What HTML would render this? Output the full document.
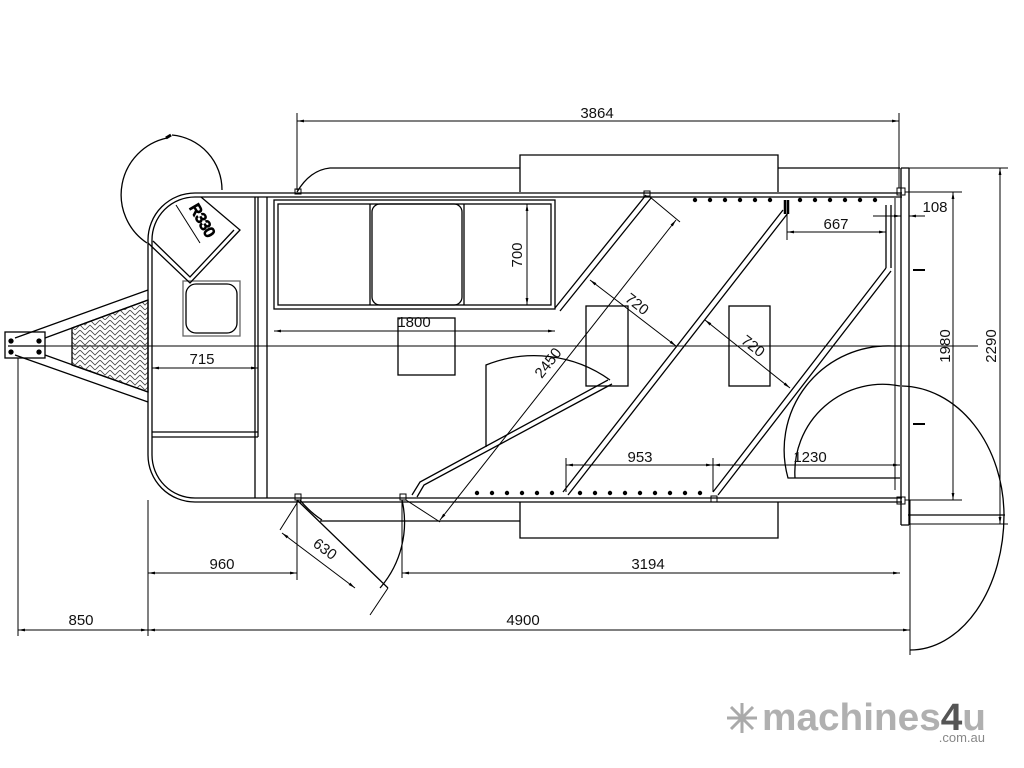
<!DOCTYPE html>
<html><head><meta charset="utf-8"><style>
html,body{margin:0;padding:0;background:#fff;}
svg{display:block}
text{font-family:"Liberation Sans",sans-serif;font-size:15px;fill:#111}
</style></head><body>
<svg width="1024" height="768" viewBox="0 0 1024 768" xmlns="http://www.w3.org/2000/svg">
<defs>
<marker id="a" viewBox="0 0 10 10" refX="10" refY="5" markerWidth="7" markerHeight="7" orient="auto-start-reverse"><path d="M0,3 L10,5 L0,7 z" fill="#000"/></marker>
<pattern id="h" width="10" height="10" patternUnits="userSpaceOnUse"><path d="M0,0 L5,5 L10,0 M0,5 L5,10 L10,5" stroke="#444" stroke-width="0.8" fill="none"/></pattern>
</defs>
<g stroke="#000" stroke-width="1.3" fill="none">
<line x1="8" y1="346" x2="978" y2="346" stroke-width="1"/>
<path d="M148,240 A47,47 0 0 1 195,193 L902,193"/>
<path d="M152,240 A43,43 0 0 1 195,197 L902,197"/>
<path d="M148,240 L148,455 A47,47 0 0 0 195,502 L902,502"/>
<path d="M152,240 L152,455 A43,43 0 0 0 195,498 L902,498"/>
<line x1="255" y1="197" x2="255" y2="498"/>
<line x1="258" y1="197" x2="258" y2="437"/>
<line x1="267" y1="197" x2="267" y2="498"/>
<path d="M152,432 L258,432 M152,437 L258,437"/>
<rect x="183" y="281" width="57" height="55" stroke="#666"/>
<rect x="186" y="284" width="51" height="49" rx="10"/>
<!-- door top-left -->
<path d="M147,243 A58,58 0 0 1 167,138"/>
<path d="M166,138 L171,135" stroke-width="3"/>
<path d="M172,135 A55,55 0 0 1 222,190"/>
<path d="M148,243 L190,283 L240,230 L201,197"/>
<path d="M153,241 L190,277 L234,230"/>
<line x1="176" y1="205" x2="200" y2="243" stroke-width="1"/>
<text x="198" y="223" transform="rotate(60 198 223)" text-anchor="middle">R330</text>
<!-- drawbar -->
<rect x="5" y="332" width="40" height="26"/>
<line x1="8" y1="346" x2="44" y2="346"/>
<circle cx="11" cy="341" r="2" fill="#000"/><circle cx="11" cy="352" r="2" fill="#000"/>
<circle cx="39" cy="341" r="2" fill="#000"/><circle cx="39" cy="352" r="2" fill="#000"/>
<path d="M15,338 L148,290 M45,338 L148,300 M15,355 L148,402 M45,355 L148,392"/>
<path d="M72,328 L148,300 L148,392 L72,365 Z" fill="url(#h)"/>
<line x1="18" y1="358" x2="18" y2="636" stroke-width="1"/>
<rect x="274" y="200" width="281" height="109"/>
<rect x="278" y="204" width="273" height="101"/>
<line x1="370" y1="204" x2="370" y2="305"/><line x1="464" y1="204" x2="464" y2="305"/>
<rect x="372" y="204" width="90" height="101" rx="8"/>
<rect x="398" y="318" width="57" height="57"/>
<path d="M520,192 L520,155 L778,155 L778,192"/>
<path d="M297,192 Q310,170 330,168 L520,168 M778,168 L900,168"/>
<path d="M520,502 L520,538 L778,538 L778,502"/>
<path d="M320,521 L520,521"/>
<path d="M646,195 L555,308 M651,198 L560,311"/>
<path d="M783,210 L563,492 M788,213 L568,495"/>
<path d="M886,268 L713,492 M891,271 L718,495"/>
<path d="M886,205 L886,268 M891,205 L891,268"/>
<path d="M785,200 L785,214 M788,200 L788,214" stroke-width="2.5"/>
<path d="M412,495 L420,482 L608,380 M417,497 L424,485 L612,384"/>
<path d="M486,447 L486,365 A130,130 0 0 1 610,380"/>
<rect x="586" y="306" width="42" height="80"/>
<rect x="729" y="306" width="41" height="80"/>
<path d="M900,346 L892,346 A104,104 0 0 0 788,478 L900,478"/>
<path d="M900,386 A88,88 0 0 0 795,478"/>
<path d="M902,386 A104,130 0 0 1 1004,515 M1004,515 A94,135 0 0 1 910,650"/>
<line x1="908" y1="515" x2="1005" y2="515"/>
<line x1="910" y1="500" x2="910" y2="655" stroke-width="1"/>
<path d="M901,168 L901,525 M909,168 L909,525 M901,168 L909,168 M901,525 L909,525"/>
<path d="M913,270 L925,270 M913,424 L925,424" stroke-width="2"/>
<path d="M895,198 L895,490" stroke-width="1"/>
<path d="M297,500 L388,588" />
<path d="M300,500 A95,95 0 0 0 322,520"/>
<path d="M402,500 A100,100 0 0 1 380,588"/>
<line x1="402" y1="500" x2="402" y2="578" stroke-width="1"/>
<line x1="297" y1="500" x2="297" y2="580" stroke-width="1"/>
<line x1="148" y1="500" x2="148" y2="636" stroke-width="1"/>
<rect x="295" y="189" width="6" height="5" stroke-width="1"/>
<rect x="644" y="191" width="6" height="5" stroke-width="1"/>
<rect x="897" y="188" width="8" height="7" stroke-width="1"/>
<rect x="295" y="494" width="6" height="6" stroke-width="1"/>
<rect x="400" y="494" width="6" height="6" stroke-width="1"/>
<rect x="711" y="496" width="6" height="6" stroke-width="1"/>
<rect x="897" y="497" width="8" height="7" stroke-width="1"/>
</g>
<g fill="#000">
<circle cx="695" cy="200" r="2.2"/><circle cx="710" cy="200" r="2.2"/><circle cx="725" cy="200" r="2.2"/><circle cx="740" cy="200" r="2.2"/><circle cx="755" cy="200" r="2.2"/><circle cx="770" cy="200" r="2.2"/><circle cx="800" cy="200" r="2.2"/><circle cx="815" cy="200" r="2.2"/><circle cx="830" cy="200" r="2.2"/><circle cx="845" cy="200" r="2.2"/><circle cx="860" cy="200" r="2.2"/><circle cx="875" cy="200" r="2.2"/>
<circle cx="477" cy="493" r="2.2"/><circle cx="492" cy="493" r="2.2"/><circle cx="507" cy="493" r="2.2"/><circle cx="522" cy="493" r="2.2"/><circle cx="537" cy="493" r="2.2"/><circle cx="552" cy="493" r="2.2"/><circle cx="580" cy="493" r="2.2"/><circle cx="595" cy="493" r="2.2"/><circle cx="610" cy="493" r="2.2"/><circle cx="625" cy="493" r="2.2"/><circle cx="640" cy="493" r="2.2"/><circle cx="655" cy="493" r="2.2"/><circle cx="670" cy="493" r="2.2"/><circle cx="685" cy="493" r="2.2"/><circle cx="700" cy="493" r="2.2"/>
</g>
<g stroke="#000" stroke-width="1" fill="none">
<line x1="297" y1="113" x2="297" y2="190"/><line x1="899" y1="113" x2="899" y2="188"/>
<line x1="297" y1="121" x2="899" y2="121" marker-start="url(#a)" marker-end="url(#a)"/>
<line x1="18" y1="630" x2="148" y2="630" marker-start="url(#a)" marker-end="url(#a)"/>
<line x1="148" y1="630" x2="910" y2="630" marker-start="url(#a)" marker-end="url(#a)"/>
<line x1="148" y1="573" x2="297" y2="573" marker-start="url(#a)" marker-end="url(#a)"/>
<line x1="402" y1="573" x2="900" y2="573" marker-start="url(#a)" marker-end="url(#a)"/>
<line x1="152" y1="368" x2="258" y2="368" marker-start="url(#a)" marker-end="url(#a)"/>
<line x1="274" y1="331" x2="555" y2="331" marker-start="url(#a)" marker-end="url(#a)"/>
<line x1="527" y1="204" x2="527" y2="305" marker-start="url(#a)" marker-end="url(#a)"/>
<line x1="787" y1="214" x2="787" y2="240"/>
<line x1="787" y1="232" x2="886" y2="232" marker-start="url(#a)" marker-end="url(#a)"/>
<line x1="873" y1="216" x2="901" y2="216" marker-end="url(#a)"/><line x1="925" y1="216" x2="909" y2="216" marker-end="url(#a)"/>
<line x1="905" y1="192" x2="962" y2="192"/><line x1="905" y1="500" x2="962" y2="500"/>
<line x1="953" y1="192" x2="953" y2="500" marker-start="url(#a)" marker-end="url(#a)"/>
<line x1="909" y1="168" x2="1008" y2="168"/><line x1="909" y1="524" x2="1008" y2="524"/>
<line x1="1000" y1="168" x2="1000" y2="524" marker-start="url(#a)" marker-end="url(#a)"/>
<line x1="566" y1="458" x2="566" y2="492"/><line x1="713" y1="458" x2="713" y2="492"/>
<line x1="566" y1="465" x2="713" y2="465" marker-start="url(#a)" marker-end="url(#a)"/>
<line x1="713" y1="465" x2="900" y2="465" marker-start="url(#a)" marker-end="url(#a)"/>
<line x1="650" y1="197" x2="680" y2="222"/>
<line x1="440" y1="520" x2="676" y2="220" marker-start="url(#a)" marker-end="url(#a)"/>
<line x1="406" y1="500" x2="440" y2="522"/>
<line x1="590" y1="280" x2="676" y2="346" marker-start="url(#a)" marker-end="url(#a)"/>
<line x1="705" y1="320" x2="790" y2="388" marker-start="url(#a)" marker-end="url(#a)"/>
<line x1="282" y1="533" x2="355" y2="588" marker-start="url(#a)" marker-end="url(#a)"/>
<line x1="297" y1="503" x2="280" y2="530"/><line x1="388" y1="588" x2="370" y2="615"/>
</g>
<text x="597" y="118" text-anchor="middle">3864</text>
<text x="81" y="625" text-anchor="middle">850</text>
<text x="523" y="625" text-anchor="middle">4900</text>
<text x="222" y="569" text-anchor="middle">960</text>
<text x="648" y="569" text-anchor="middle">3194</text>
<text x="202" y="364" text-anchor="middle">715</text>
<text x="414" y="327" text-anchor="middle">1800</text>
<text x="522" y="255" text-anchor="middle" transform="rotate(-90 522 255)">700</text>
<text x="836" y="229" text-anchor="middle">667</text>
<text x="935" y="212" text-anchor="middle">108</text>
<text x="950" y="346" text-anchor="middle" transform="rotate(-90 950 346)">1980</text>
<text x="996" y="346" text-anchor="middle" transform="rotate(-90 996 346)">2290</text>
<text x="640" y="462" text-anchor="middle">953</text>
<text x="810" y="462" text-anchor="middle">1230</text>
<text x="634" y="308" text-anchor="middle" transform="rotate(38 634 308)">720</text>
<text x="750" y="350" text-anchor="middle" transform="rotate(38 750 350)">720</text>
<text x="552" y="366" text-anchor="middle" transform="rotate(-52 552 366)">2450</text>
<text x="322" y="553" text-anchor="middle" transform="rotate(37 322 553)">630</text>
<g transform="translate(742,718)" stroke="#aaa" stroke-width="3">
<line x1="-15" y1="0" x2="15" y2="0"/><line x1="0" y1="-15" x2="0" y2="15"/>
<line x1="-11" y1="-11" x2="11" y2="11"/><line x1="-11" y1="11" x2="11" y2="-11"/>
</g>
<text x="762" y="730" textLength="224" lengthAdjust="spacingAndGlyphs" style="font-size:38px;font-weight:bold;fill:#b0b0b0">machines<tspan style="fill:#555">4</tspan>u</text>
<text x="985" y="742" text-anchor="end" style="font-size:13px;fill:#888">.com.au</text>
</svg>
</body></html>
